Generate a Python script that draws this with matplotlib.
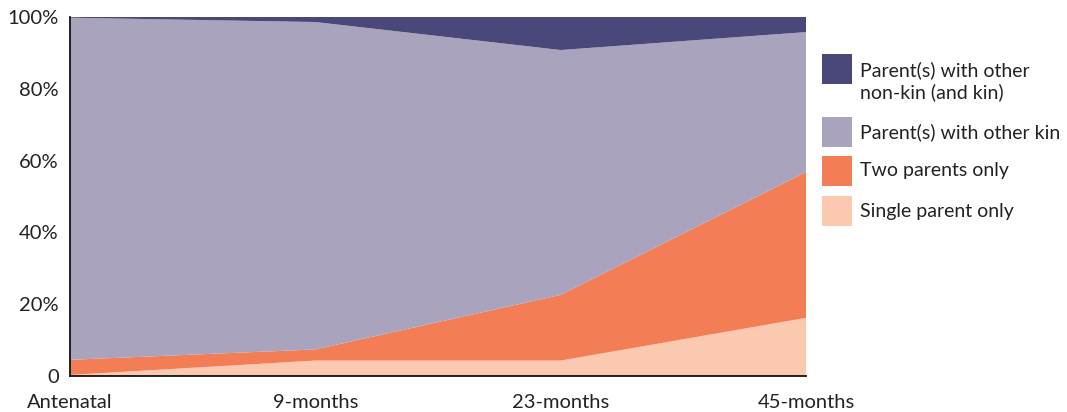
import matplotlib
matplotlib.use("Agg")
import matplotlib.pyplot as plt
from matplotlib.patches import Rectangle
from matplotlib.ticker import FuncFormatter

plt.rcParams['font.family'] = ['Lato', 'DejaVu Sans']

# data (percent of households)
waves = ["Antenatal", "9-months", "23-months", "45-months"]
single_parent = [0.3, 4.3, 4.3, 16.2]
two_parents = [4.2, 3.1, 18.3, 40.6]
other_kin = [95.3, 91.2, 68.2, 39.0]
non_kin = [0.2, 1.4, 9.2, 4.2]

labels = ["Single parent only", "Two parents only",
          "Parent(s) with other kin", "Parent(s) with other\nnon-kin (and kin)"]
colors = ["#fbc8b0", "#f37d55", "#a9a3bd", "#4a477a"]

W, H = 1067, 412
fig = plt.figure(figsize=(W / 100, H / 100), dpi=100)
ax = fig.add_axes([70 / W, 36 / H, 736 / W, 359 / H])

x = list(range(len(waves)))
ax.stackplot(x, single_parent, two_parents, other_kin, non_kin,
             colors=colors, labels=labels, linewidth=0)

ax.set_xlim(0, len(waves) - 1)
ax.set_ylim(0, 100)
ax.set_xticks(x)
ax.set_xticklabels(waves)
ax.set_yticks([0, 20, 40, 60, 80, 100])
ax.yaxis.set_major_formatter(FuncFormatter(lambda v, p: "0" if v == 0 else "%d%%" % v))
ax.tick_params(length=0, labelsize=14.5, colors="#222222")
ax.tick_params(axis="x", pad=13)
ax.tick_params(axis="y", pad=8)

for s in ["top", "right"]:
    ax.spines[s].set_visible(False)
for s in ["left", "bottom"]:
    ax.spines[s].set_linewidth(1.3)
    ax.spines[s].set_color("#111111")
    ax.spines[s].set_zorder(5)

# legend drawn by hand (top to bottom), pixel positions from the top
box_tops = [196, 156, 117, 54]
text_mid = [211, 171, 132, 81]
for lab, col, top, mid in zip(labels, colors, box_tops, text_mid):
    fig.add_artist(Rectangle((822 / W, 1 - (top + 30) / H), 30 / W, 30 / H,
                             transform=fig.transFigure, facecolor=col,
                             edgecolor="none"))
    fig.text(860 / W, 1 - mid / H, lab, fontsize=14, color="#222222",
             va="center", ha="left", linespacing=1.25)

fig.savefig("out.png", dpi=100)
